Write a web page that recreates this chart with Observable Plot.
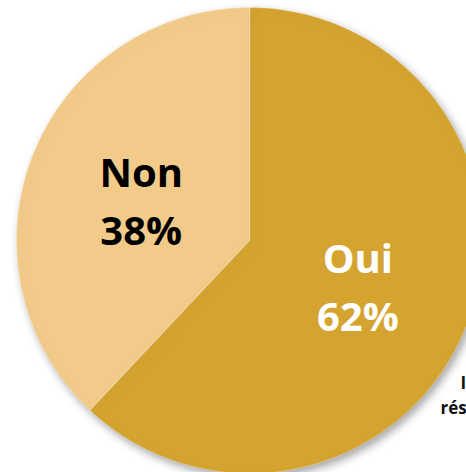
<!DOCTYPE html>
<html>
<head>
<meta charset="utf-8">
<script src="https://cdn.jsdelivr.net/npm/d3@7"></script>
<script src="https://cdn.jsdelivr.net/npm/@observablehq/plot@0.6"></script>
<style>
  html, body { margin: 0; padding: 0; background: #fff; overflow: hidden; }
  #chart svg { overflow: visible; display: block; }
  #chart g[aria-label="line"] { filter: drop-shadow(3px 4px 4px rgba(0,0,0,0.35)); }
</style>
</head>
<body>
<div id="chart"></div>
<script>
const categories = ["Oui", "Non"];
const values = [62, 38];
const labels = ["Oui\n62%", "Non\n38%"];
const colors = ["#D5A430", "#F2CB8B"];
const textColors = ["#ffffff", "#000000"];
const cornerLines = ["I", "résultats"];

const arcs = d3.pie().sort(null).value(d => d)(values);

// polygon outline of each slice in unit-circle coordinates
const poly = [];
arcs.forEach((a, i) => {
  poly.push({cat: categories[i], x: 0, y: 0});
  const n = 180;
  for (let k = 0; k <= n; k++) {
    const t = a.startAngle + (a.endAngle - a.startAngle) * k / n;
    poly.push({cat: categories[i], x: Math.sin(t), y: Math.cos(t)});
  }
});

const labelData = arcs.map((a, i) => {
  const m = (a.startAngle + a.endAngle) / 2;
  return {cat: categories[i], text: labels[i], x: 0.5 * Math.sin(m), y: 0.5 * Math.cos(m), color: textColors[i]};
});

const chart = Plot.plot({
  width: 466,
  height: 472,
  margin: 0,
  style: {fontFamily: "'Open Sans', sans-serif", background: "transparent"},
  x: {domain: [-1, 1], range: [16, 482], axis: null},
  y: {domain: [-1, 1], range: [473, 7], axis: null},
  color: {domain: categories, range: colors},
  marks: [
    Plot.line(poly, {x: "x", y: "y", z: "cat", fill: "cat", stroke: "none", curve: "linear-closed"}),
    Plot.line(poly, {x: "x", y: "y", z: "cat", stroke: "#ffffff", strokeOpacity: 0.25, strokeWidth: 1, curve: "linear-closed"}),
    Plot.text(labelData, {x: "x", y: "y", text: "text", fill: "color", fontSize: 40, fontWeight: "bold", lineHeight: 1.45, lineAnchor: "middle"}),
    Plot.text(cornerLines, {text: d => d, frameAnchor: "top-left", textAnchor: "start", fontSize: 17, fontWeight: "bold", fill: "#111"})
  ]
});
document.getElementById("chart").appendChild(chart);

// position corner annotation lines (partially cut off at right edge, as in the reference)
const corner = chart.querySelectorAll('g[aria-label="text"]')[1];
if (corner) {
  const ts = corner.querySelectorAll("text");
  const pos = [[460, 388], [440, 413]];
  ts.forEach((t, i) => { t.setAttribute("transform", `translate(${pos[i][0]},${pos[i][1]})`); t.removeAttribute("y"); t.removeAttribute("x"); t.removeAttribute("dy"); });
}
</script>
</body>
</html>
